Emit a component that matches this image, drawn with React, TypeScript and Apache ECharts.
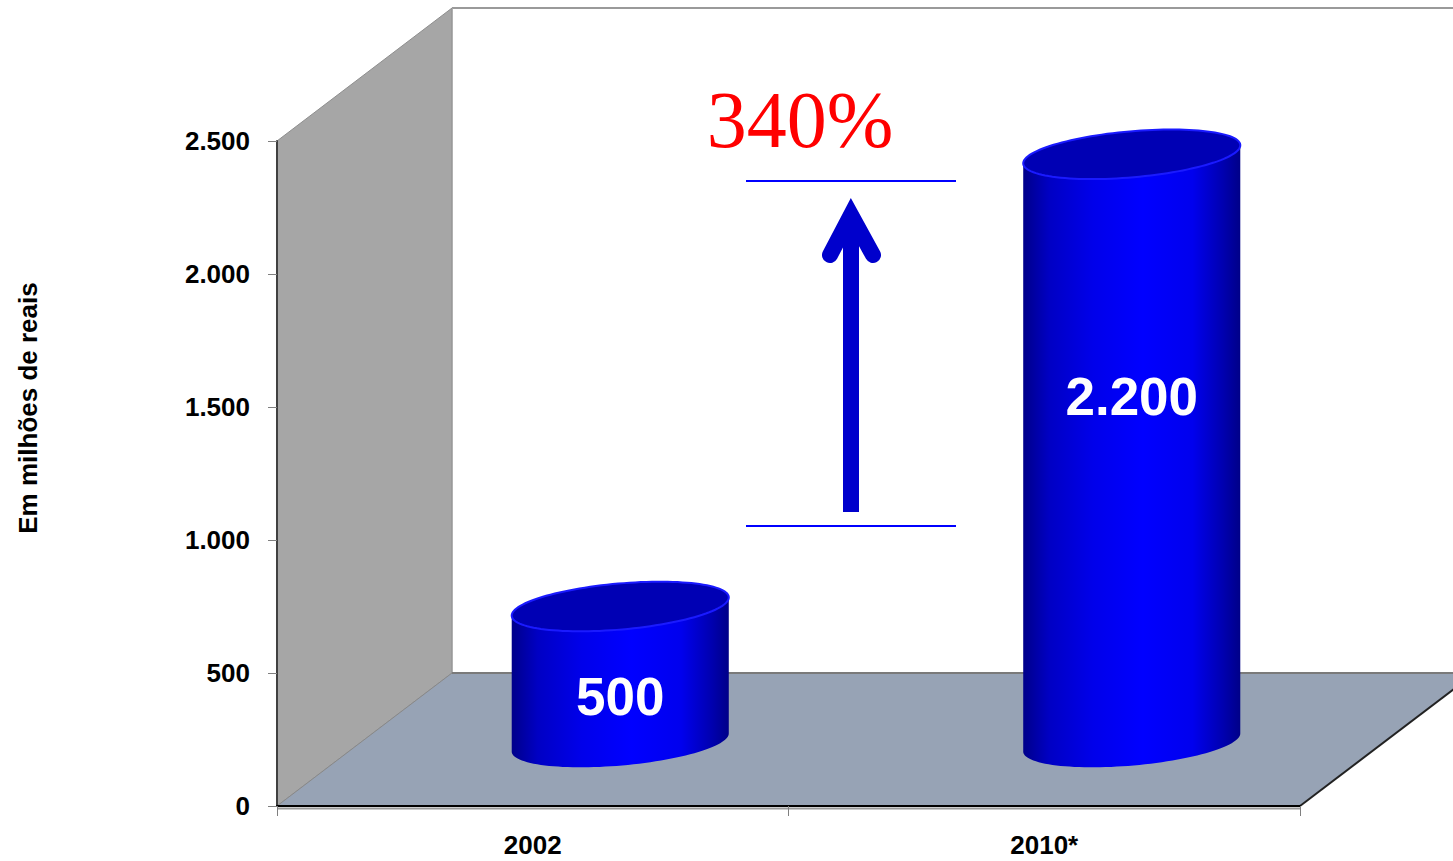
import React, { useEffect, useRef } from 'react';
import * as echarts from 'echarts';

const categories = ['2002', '2010*'];
const values = [500, 2200];
// value level (in axis units) where each bar's value label sits
const labelLevels = [160, 1290];
const yMin = 0;
const yMax = 2500;
const yInterval = 500;
const axisName = 'Em milhões de reais';
const growthLabel = '340%';

// oblique depth of the 3D box (style)
const DX = 175;
const DY = -133;

const fmt = (v: number) => String(v).replace(/\B(?=(\d{3})+(?!\d))/g, '.');

function ellipsePts(cx: number, cy: number, a: number, b: number, th: number, t0: number, t1: number, n: number) {
  const pts: number[][] = [];
  for (let k = 0; k <= n; k++) {
    const t = t0 + ((t1 - t0) * k) / n;
    const ex = a * Math.cos(t);
    const ey = b * Math.sin(t);
    pts.push([cx + ex * Math.cos(th) + ey * Math.sin(th), cy - ex * Math.sin(th) + ey * Math.cos(th)]);
  }
  return pts;
}

const SANS = 'Arial, "Liberation Sans", sans-serif';
const SERIF = '"Times New Roman", "Liberation Serif", serif';

export default function App() {
  const ref = useRef<HTMLDivElement>(null);
  useEffect(() => {
    if (!ref.current) return;
    const chart = echarts.init(ref.current, null, { renderer: 'svg' });

    const boxRender = (params: any) => {
      const cs = params.coordSys;
      const x = cs.x, y = cs.y, w = cs.width, h = cs.height;
      return {
        type: 'group',
        children: [
          { type: 'polygon', shape: { points: [[x + DX, y + DY], [x + w + DX, y + DY], [x + w + DX, y + h + DY], [x + DX, y + h + DY]] }, style: { fill: '#ffffff' } },
          { type: 'line', shape: { x1: x + DX, y1: y + DY, x2: x + w + DX, y2: y + DY }, style: { stroke: '#9a9a9a', lineWidth: 2 } },
          { type: 'line', shape: { x1: x + DX, y1: y + DY, x2: x + DX, y2: y + h + DY }, style: { stroke: '#c4c4c4', lineWidth: 1.5 } },
          { type: 'polygon', shape: { points: [[x, y], [x + DX, y + DY], [x + DX, y + h + DY], [x, y + h]] }, style: { fill: '#a6a6a6', stroke: '#8e8e8e', lineWidth: 1 } },
          { type: 'polygon', shape: { points: [[x, y + h], [x + DX, y + h + DY], [x + w + DX, y + h + DY], [x + w, y + h]] }, style: { fill: '#97a3b5' } },
          { type: 'line', shape: { x1: x + DX, y1: y + h + DY, x2: x + w + DX, y2: y + h + DY }, style: { stroke: '#7a7a7a', lineWidth: 2 } },
          { type: 'line', shape: { x1: x, y1: y + h, x2: x + DX, y2: y + h + DY }, style: { stroke: '#888888', lineWidth: 1 } },
          { type: 'line', shape: { x1: x + w, y1: y + h, x2: x + w + DX, y2: y + h + DY }, style: { stroke: '#222222', lineWidth: 2 } },
          { type: 'line', shape: { x1: x, y1: y + h + 2.5, x2: x + w, y2: y + h + 2.5 }, style: { stroke: '#9a9a9a', lineWidth: 2 } },
        ],
      };
    };

    const cylRender = (params: any, api: any) => {
      const i = api.value(0);
      const v = api.value(1);
      const lv = api.value(2);
      const top = api.coord([i, v]);
      const base = api.coord([i, 0]);
      const lab = api.coord([i, lv]);
      const band = api.size([1, 0])[0];
      const a = band * 0.213;
      const b = 23;
      const th = (5 * Math.PI) / 180;
      const cx = top[0] + DX / 2;
      const cyT = top[1] + DY / 2;
      const cyB = base[1] + DY / 2 + 3;
      const body = [
        ...ellipsePts(cx, cyB, a, b, th, 0, Math.PI, 60),
        ...ellipsePts(cx, cyT, a, b, th, Math.PI, 0, 60),
      ];
      const topPts = ellipsePts(cx, cyT, a, b, th, 0, Math.PI * 2, 120);
      return {
        type: 'group',
        children: [
          {
            type: 'polygon',
            shape: { points: body },
            style: {
              fill: {
                type: 'linear', x: 0, y: 0, x2: 1, y2: 0,
                colorStops: [
                  { offset: 0, color: '#00008a' },
                  { offset: 0.12, color: '#0000c4' },
                  { offset: 0.32, color: '#0000ea' },
                  { offset: 0.55, color: '#0000ff' },
                  { offset: 0.78, color: '#0000ee' },
                  { offset: 0.92, color: '#0000b0' },
                  { offset: 1, color: '#000088' },
                ],
              },
            },
          },
          {
            type: 'polygon',
            shape: { points: topPts },
            style: { fill: '#0000b4', stroke: '#1a1aff', lineWidth: 2 },
          },
          {
            type: 'text',
            x: cx,
            y: lab[1] + DY / 2,
            style: {
              text: fmt(v),
              fill: '#ffffff',
              font: `bold 53px ${SANS}`,
              textAlign: 'center',
              textVerticalAlign: 'middle',
              align: 'center',
              verticalAlign: 'middle',
            },
          },
        ],
      };
    };

    const option: any = {
      animation: false,
      backgroundColor: '#ffffff',
      grid: { left: 277, top: 141, width: 1023, height: 665, containLabel: false },
      xAxis: {
        type: 'category',
        data: categories,
        z: 2,
        boundaryGap: true,
        axisLine: { show: true, lineStyle: { color: '#000000', width: 2 } },
        axisTick: { show: true, length: 10, alignWithLabel: false, lineStyle: { color: '#7f7f7f', width: 1 } },
        axisLabel: { color: '#000000', fontSize: 26, fontWeight: 'bold', fontFamily: SANS, margin: 39, verticalAlign: 'middle' },
        splitLine: { show: false },
      },
      yAxis: {
        type: 'value',
        min: yMin,
        max: yMax,
        interval: yInterval,
        z: 2,
        axisLine: { show: true, lineStyle: { color: '#404040', width: 2 } },
        axisTick: { show: true, length: 9, lineStyle: { color: '#7f7f7f', width: 1 } },
        axisLabel: { color: '#000000', fontSize: 26, fontWeight: 'bold', fontFamily: SANS, margin: 27, formatter: (v: number) => fmt(v) },
        splitLine: { show: false },
      },
      graphic: [
        {
          type: 'text', x: 28, y: 408, rotation: Math.PI / 2, z: 10,
          style: { text: axisName, fill: '#000000', font: `bold 26px ${SANS}`, textAlign: 'center', textVerticalAlign: 'middle', align: 'center', verticalAlign: 'middle' },
        },
        {
          type: 'text', x: 800, y: 120, z: 10,
          style: { text: growthLabel, fill: '#ff0000', font: `80px ${SERIF}`, textAlign: 'center', textVerticalAlign: 'middle', align: 'center', verticalAlign: 'middle' },
        },
        { type: 'line', z: 10, shape: { x1: 746, y1: 181, x2: 956, y2: 181 }, style: { stroke: '#0000ff', lineWidth: 2 } },
        { type: 'line', z: 10, shape: { x1: 746, y1: 526, x2: 956, y2: 526 }, style: { stroke: '#0000ff', lineWidth: 2 } },
        { type: 'line', z: 10, shape: { x1: 851, y1: 512, x2: 851, y2: 222 }, style: { stroke: '#0000cc', lineWidth: 16, lineCap: 'butt' } },
        {
          type: 'polyline', z: 10,
          shape: { points: [[830, 255], [851, 215], [873, 255]] },
          style: { stroke: '#0000cc', lineWidth: 16, lineCap: 'round', lineJoin: 'miter', fill: 'none' },
        },
      ],
      series: [
        { type: 'custom', z: 1, silent: true, data: [[0, 0]], renderItem: boxRender },
        {
          type: 'custom', z: 3, silent: true,
          data: values.map((v, i) => [i, v, labelLevels[i]]),
          renderItem: cylRender,
        },
      ],
    };
    chart.setOption(option);
    return () => chart.dispose();
  }, []);
  return <div ref={ref} style={{ position: 'fixed', left: 0, top: 0, width: 1453, height: 861, background: '#fff' }} />;
}
